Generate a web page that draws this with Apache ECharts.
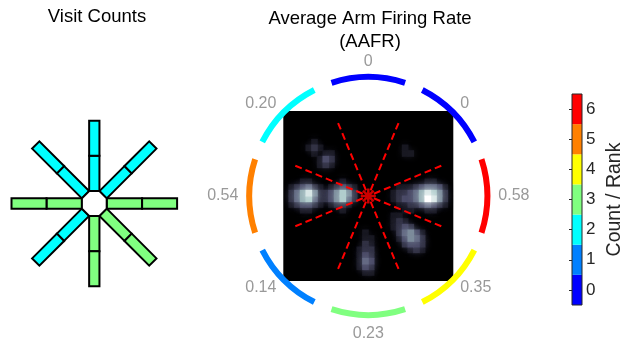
<!DOCTYPE html>
<html><head><meta charset="utf-8">
<script src="https://cdn.jsdelivr.net/npm/echarts@6/dist/echarts.min.js"></script>
<style>html,body{margin:0;padding:0;background:#fff}#c{width:638px;height:353px}</style>
</head><body><div id="c"></div>
<script>
// ---------------- data ----------------
const armNames = ['N', 'NE', 'E', 'SE', 'S', 'SW', 'W', 'NW'];
const visitInner = [2, 2, 3, 3, 3, 2, 3, 2];
const visitOuter = [2, 2, 3, 3, 3, 2, 3, 2];
const aafr = [0, 0, 0.58, 0.35, 0.23, 0.14, 0.54, 0.20];
const colorbarTicks = ['0', '1', '2', '3', '4', '5', '6'];
// firing-rate map, 30 x 30 cells, intensity 0..9 (row 0 = top)
const rateRows = [
  '000000000000000000000000000000',
  '000000000000000000000000000000',
  '000000000000000000000000000000',
  '000000000000000000000000000000',
  '000000000000000000000000000000',
  '000001000000000000000000000000',
  '000012100000000000000100000000',
  '000001011000000000000110000000',
  '000000132000000000000000000000',
  '000000121000000000000000000000',
  '000000000000000000000000000000',
  '000000000000000000000000000000',
  '000110000010000000000000011000',
  '012342101232100000001112344310',
  '024685223575200000012234687520',
  '024674223574200000012334698520',
  '012332101221000000001122343210',
  '000110000010000000000110011000',
  '000000000000000000011000000000',
  '000000000000000000012100000000',
  '000000000000000000012320000000',
  '000000000000001000002453100000',
  '000000000000001100001354200000',
  '000000000000002100000233200000',
  '000000000000012200000012100000',
  '000000000000013200000000000000',
  '000000000000014300000000000000',
  '000000000000013200000000000000',
  '000000000000001100000000000000',
  '000000000000000000000000000000'
];

// ---------------- styles ----------------
const FONT = '"Liberation Sans", Arial, Helvetica, sans-serif';
const jet7 = ['#0000ff', '#0080ff', '#00ffff', '#80ff80', '#ffff00', '#ff8000', '#ff0000'];
const bone = ['#000000', '#1c1c26', '#38384d', '#545474', '#707a8f', '#8ba1ab', '#a7c7c7', '#d3e3e3', '#ffffff'];

// ---------------- derived ----------------
const distinct = Array.from(new Set(aafr)).sort((a, b) => a - b);
const aafrRank = aafr.map(v => distinct.indexOf(v));
const armAngle = k => 90 - 45 * k; // math degrees

// maze geometry (px units, 1 unit = 1 px)
const APO = 12.4, DIV = 47.8, OUT = 82.8, AW = 10.3;

const segData = [];
armNames.forEach((n, k) => {
  segData.push([k, 0, visitInner[k]]);
  segData.push([k, 1, visitOuter[k]]);
});

const heatData = [];
rateRows.forEach((row, r) => {
  for (let c = 0; c < row.length; c++) if (+row[c] > 0) heatData.push([c, r, +row[c]]);
});
heatData.sort((a, b) => a[2] - b[2]);
const idx30 = Array.from({length: 30}, (_, i) => i);

const RC = [368.3, 196];

const series = [];
// maze arms
series.push({
  type: 'custom', xAxisIndex: 0, yAxisIndex: 0, data: segData, z: 2,
  renderItem: (params, api) => {
    const k = api.value(0), seg = api.value(1), cnt = api.value(2);
    const a = armAngle(k) * Math.PI / 180;
    const ux = Math.cos(a), uy = Math.sin(a), px = -uy, py = ux;
    const r0 = seg === 0 ? APO : DIV, r1 = seg === 0 ? DIV : OUT, h = AW / 2;
    const pts = [[r0, h], [r1, h], [r1, -h], [r0, -h]].map(([r, s]) =>
      api.coord([r * ux + s * px, r * uy + s * py]));
    return {type: 'polygon', shape: {points: pts},
      style: {fill: jet7[cnt], stroke: '#000', lineWidth: 2}};
  }
});
// maze centre octagon
series.push({
  type: 'custom', xAxisIndex: 0, yAxisIndex: 0, data: [[0, 0]], z: 3,
  renderItem: (params, api) => {
    const R = APO / Math.cos(Math.PI / 8);
    const pts = [];
    for (let j = 0; j < 8; j++) {
      const a = (22.5 + 45 * j) * Math.PI / 180;
      pts.push(api.coord([R * Math.cos(a), R * Math.sin(a)]));
    }
    return {type: 'polygon', shape: {points: pts},
      style: {fill: '#fff', stroke: '#000', lineWidth: 2}};
  }
});
// firing-rate map (smoothed cells)
const heatIndex = series.length;
series.push({
  type: 'custom', xAxisIndex: 1, yAxisIndex: 1, data: heatData, z: 2, clip: true,
  encode: {x: 0, y: 1},
  renderItem: (params, api) => {
    const p = api.coord([api.value(0), api.value(1)]);
    const s = api.size([1, 1]);
    const col = api.visual('color');
    return {type: 'rect',
      shape: {x: p[0] - s[0] / 2 - 0.5, y: p[1] - s[1] / 2 - 0.5, width: s[0] + 1, height: s[1] + 1},
      style: {fill: col, shadowBlur: 7, shadowColor: col}};
  }
});
// colorbar
series.push({
  type: 'bar', xAxisIndex: 2, yAxisIndex: 2, barWidth: '100%',
  data: colorbarTicks.map((t, i) => ({value: 1, itemStyle: {color: jet7[i]}}))
});
// ring arcs
series.push({
  type: 'bar', coordinateSystem: 'polar', polarIndex: 0, barWidth: '80%',
  data: aafr.map((v, k) => ({value: 1, itemStyle: {color: jet7[aafrRank[k]]}}))
});
// dashed arm lines
for (let j = 0; j < 8; j++) {
  const a = 22.5 + 45 * j;
  series.push({
    type: 'line', coordinateSystem: 'polar', polarIndex: 1, symbol: 'none', z: 5,
    data: [[6, a], [82, a]], silent: true,
    lineStyle: {color: '#ff0000', width: 2, type: [7, 4]}
  });
}
// centre asterisk
series.push({
  type: 'scatter', coordinateSystem: 'polar', polarIndex: 1, z: 6,
  data: [[0, 0]], symbolSize: 15,
  symbol: 'path://M6,0L6,12M0,6L12,6M1.76,1.76L10.24,10.24M1.76,10.24L10.24,1.76',
  itemStyle: {color: 'rgba(0,0,0,0)', borderColor: '#ff0000', borderWidth: 2.5}
});
// ring labels
series.push({
  type: 'scatter', coordinateSystem: 'polar', polarIndex: 1, z: 6, symbolSize: 1,
  itemStyle: {color: 'rgba(0,0,0,0)'},
  data: aafr.map((v, k) => {
    const ang = (armAngle(k) + 360) % 360;
    const c = Math.cos(ang * Math.PI / 180), s = Math.sin(ang * Math.PI / 180);
    let align = 'center', va = 'middle', r = 130;
    if (c > 0.1) align = 'left'; else if (c < -0.1) align = 'right';
    else { va = s > 0 ? 'bottom' : 'top'; if (s > 0) r = 126; }
    return {value: [r, ang], label: {align: align, verticalAlign: va}};
  }),
  label: {
    show: true, position: 'inside', fontSize: 16, color: '#808080', fontFamily: FONT,
    formatter: p => { const v = aafr[p.dataIndex]; return v === 0 ? '0' : v.toFixed(2); }
  }
});

const option = {
  animation: false,
  backgroundColor: '#fff',
  textStyle: {fontFamily: FONT},
  title: [
    {text: 'Visit Counts', left: 97, top: 7, padding: 0, textAlign: 'center',
      textStyle: {fontSize: 18.5, fontWeight: 'normal', color: '#000', fontFamily: FONT}},
    {text: 'Average Arm Firing Rate\n(AAFR)', left: 370, top: 7, padding: 0, textAlign: 'center',
      textStyle: {fontSize: 18.5, fontWeight: 'normal', color: '#000', fontFamily: FONT, lineHeight: 23}}
  ],
  grid: [
    {left: 4.3, top: 113.5, width: 180, height: 180, show: false},
    {left: 283.3, top: 111, width: 170, height: 170, show: true, backgroundColor: '#000', borderWidth: 0},
    {left: 572, top: 94, width: 10, height: 211, show: true, z: 10, backgroundColor: 'rgba(0,0,0,0)',
      borderColor: '#262626', borderWidth: 1}
  ],
  xAxis: [
    {gridIndex: 0, type: 'value', min: -90, max: 90, show: false},
    {gridIndex: 1, type: 'category', data: idx30, show: false},
    {gridIndex: 2, type: 'value', min: 0, max: 1, show: false}
  ],
  yAxis: [
    {gridIndex: 0, type: 'value', min: -90, max: 90, show: false},
    {gridIndex: 1, type: 'category', data: idx30, inverse: true, show: false},
    {gridIndex: 2, type: 'category', data: colorbarTicks, position: 'right',
      axisLine: {show: false},
      axisTick: {show: true, inside: true, length: 3, alignWithLabel: true, lineStyle: {color: '#262626'}},
      axisLabel: {fontSize: 17, color: '#262626', margin: 4, fontFamily: FONT},
      name: 'Count / Rank', nameLocation: 'middle', nameRotate: 90, nameGap: 23,
      nameTextStyle: {fontSize: 19.5, color: '#262626', fontFamily: FONT}}
  ],
  polar: [
    {center: RC, radius: [116, 122]},
    {center: RC, radius: 150}
  ],
  angleAxis: [
    {polarIndex: 0, type: 'category', data: armNames, startAngle: 112.5, clockwise: true, show: false},
    {polarIndex: 1, type: 'value', min: 0, max: 360, startAngle: 0, clockwise: false, show: false}
  ],
  radiusAxis: [
    {polarIndex: 0, type: 'value', min: 0, max: 1, show: false},
    {polarIndex: 1, type: 'value', min: 0, max: 150, show: false}
  ],
  visualMap: [
    {type: 'continuous', seriesIndex: heatIndex, dimension: 2, min: 0, max: 9, show: false, inRange: {color: bone}}
  ],
  series: series
};
const chart = echarts.init(document.getElementById('c'), null, {renderer: 'canvas'});
chart.setOption(option);
</script></body></html>
